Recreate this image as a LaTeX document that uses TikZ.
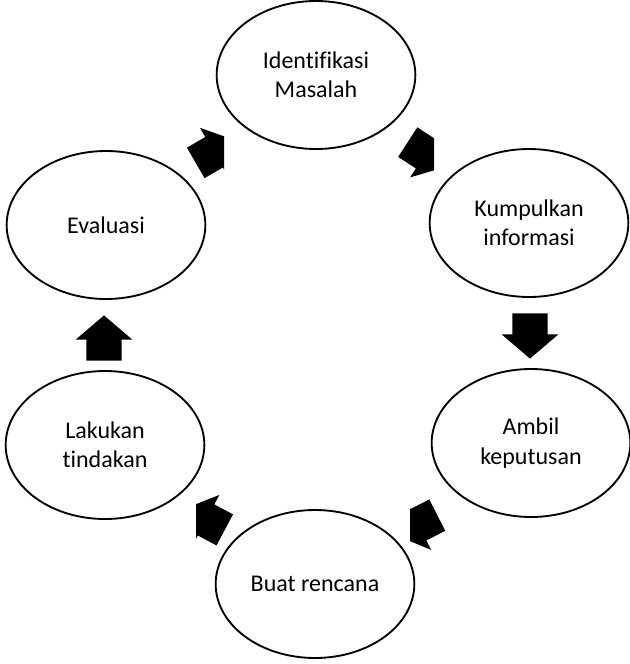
\documentclass[tikz,border=0pt]{standalone}
\usepackage{fontspec}
\setmainfont{Carlito}[Ligatures=CommonOff]
\usetikzlibrary{positioning,shapes.geometric,shapes.arrows}
\tikzstyle{stage}=[draw, ellipse, line width=1.4pt, minimum width=149pt, minimum height=111pt, align=center, font=\fontsize{18}{22}\selectfont]
\tikzstyle{blockarrow}=[single arrow, fill=black, anchor=tail, inner xsep=0pt, inner ysep=13pt, minimum height=34pt, single arrow head extend=8pt, single arrow tip angle=99]

\begin{document}
\begin{tikzpicture}[x=0.75pt, y=-0.75pt]
    \useasboundingbox (0,0) rectangle (630,664);
    \node[stage] (masalah) at (316,75) {Identifikasi\\Masalah};
    \node[stage] (info) at (529,223) {Kumpulkan\\informasi};
    \node[stage] (putus) at (531,443) {Ambil\\keputusan};
    \node[stage] (rencana) at (315,584) {Buat rencana};
    \node[stage] (tindak) at (105,445) {Lakukan\\tindakan};
    \node[stage] (eval) at (106,225) {Evaluasi};
    \node[blockarrow, rotate=-90] (a3) at (530,313) {};
    \node[blockarrow, rotate=90] (a6) at (104,361) {};
    \begin{scope}
        \clip (150,100) rectangle (224,200);
        \node[blockarrow, rotate=30] (a1) at (195.5,163) {};
    \end{scope}
    \begin{scope}
        \clip (370,100) rectangle (434,200);
        \node[blockarrow, rotate=-33] (a2) at (407.5,142) {};
    \end{scope}
    \begin{scope}
        \clip (410,470) rectangle (480,570);
        \node[blockarrow, rotate=207] (a4) at (437.5,515) {};
    \end{scope}
    \begin{scope}
        \clip (196,470) rectangle (260,570);
        \node[blockarrow, rotate=152] (a5) at (225,530) {};
    \end{scope}
\end{tikzpicture}
\end{document}
